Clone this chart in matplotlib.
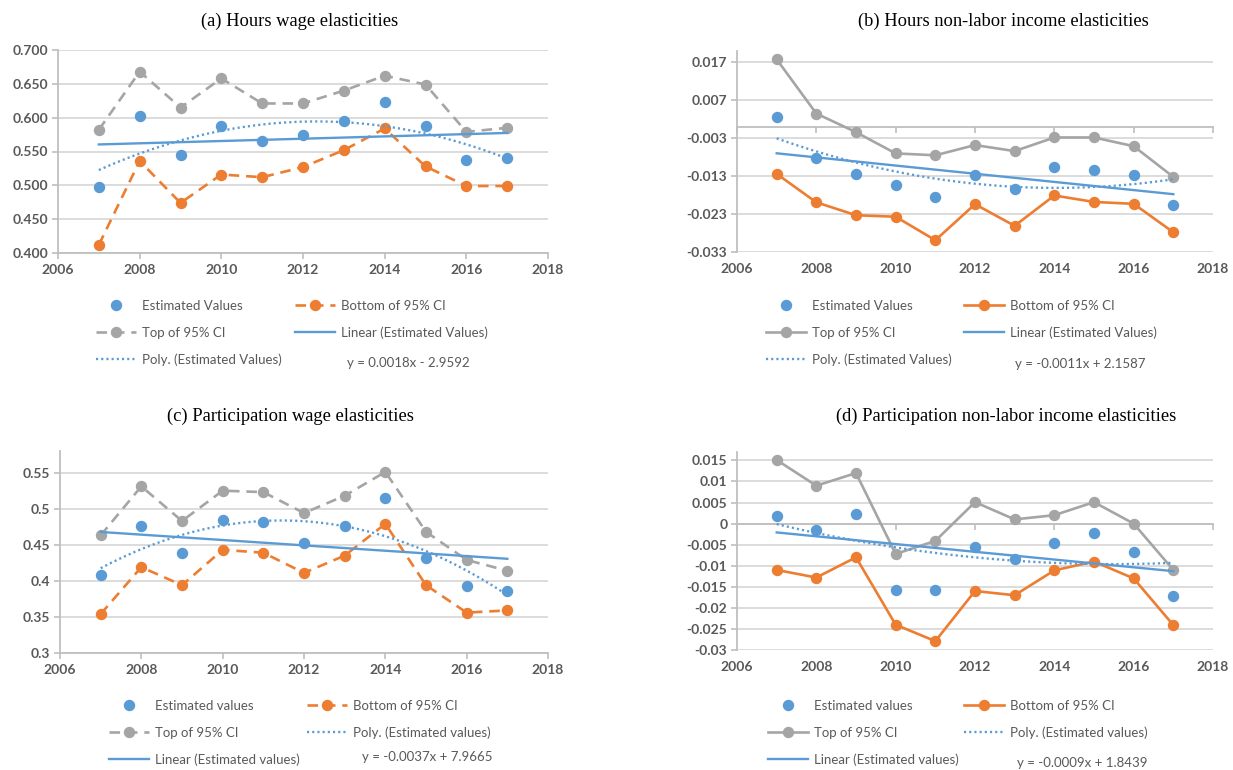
import numpy as np
import matplotlib
matplotlib.use("Agg")
import matplotlib.pyplot as plt
from matplotlib.lines import Line2D

W, H = 1233, 770

years = np.arange(2007, 2018)

# (a) Hours wage elasticities
hw_est = [0.498, 0.602, 0.545, 0.588, 0.566, 0.574, 0.595, 0.623, 0.588, 0.538, 0.541]
hw_top = [0.582, 0.668, 0.615, 0.658, 0.621, 0.621, 0.640, 0.662, 0.649, 0.579, 0.585]
hw_bot = [0.412, 0.536, 0.474, 0.516, 0.512, 0.527, 0.552, 0.584, 0.528, 0.499, 0.499]

# (b) Hours non-labor income elasticities
hn_est = [0.0027, -0.0083, -0.0124, -0.0154, -0.0186, -0.0126, -0.0163, -0.0105, -0.0113, -0.0128, -0.0205]
hn_top = [0.0178, 0.0035, -0.0014, -0.0070, -0.0075, -0.0048, -0.0064, -0.0028, -0.0028, -0.0051, -0.0132]
hn_bot = [-0.0124, -0.0199, -0.0233, -0.0237, -0.0299, -0.0204, -0.0261, -0.0181, -0.0198, -0.0203, -0.0278]

# (c) Participation wage elasticities
pw_est = [0.408, 0.476, 0.439, 0.484, 0.481, 0.452, 0.476, 0.515, 0.431, 0.393, 0.386]
pw_top = [0.463, 0.531, 0.483, 0.525, 0.523, 0.494, 0.518, 0.551, 0.468, 0.429, 0.414]
pw_bot = [0.354, 0.419, 0.394, 0.443, 0.439, 0.411, 0.435, 0.479, 0.394, 0.356, 0.359]

# (d) Participation non-labor income elasticities
pn_est = [0.0019, -0.0015, 0.0023, -0.0157, -0.0158, -0.0056, -0.0083, -0.0045, -0.0023, -0.0068, -0.0173]
pn_top = [0.0151, 0.0090, 0.0120, -0.0072, -0.0041, 0.0051, 0.0010, 0.0020, 0.0051, 0.0000, -0.0110]
pn_bot = [-0.0110, -0.0128, -0.0080, -0.0240, -0.0279, -0.0160, -0.0170, -0.0111, -0.0090, -0.0130, -0.0241]

titles = ["(a) Hours wage elasticities",
          "(b) Hours non-labor income elasticities",
          "(c) Participation wage elasticities",
          "(d) Participation non-labor income elasticities"]
equations = ["y = 0.0018x - 2.9592", "y = -0.0011x + 2.1587",
             "y = -0.0037x + 7.9665", "y = -0.0009x + 1.8439"]
xticks = [2006, 2008, 2010, 2012, 2014, 2016, 2018]

BLUE = "#5B9BD5"
ORANGE = "#ED7D31"
GRAY = "#A5A5A5"
TXT = "#595959"
GRID = "#D9D9D9"
AXIS = "#BFBFBF"

TICKFONT = dict(family="Lato", weight="bold", size=10, color=TXT)
LEGFONT = dict(family="Lato", size=9.5)

fig = plt.figure(figsize=(W / 100, H / 100), dpi=100)
fig.patch.set_facecolor("white")


def px_axes(left, top, right, bottom):
    return fig.add_axes([left / W, 1 - bottom / H, (right - left) / W, (bottom - top) / H])


def fig_xy(x, y):
    return x / W, 1 - y / H


def draw_panel(rect, est, top, bot, ylim, yticks, yfmt, dashed, cross_zero):
    ax = px_axes(*rect)
    ls = (0, (4, 2.6)) if dashed else "-"
    ax.plot(years, bot, color=ORANGE, lw=1.9, ls=ls, marker="o", ms=7.2, zorder=3)
    ax.plot(years, top, color=GRAY, lw=1.9, ls=ls, marker="o", ms=7.2, zorder=3)
    ax.plot(years, est, ls="none", color=BLUE, marker="o", ms=7.2, zorder=4)

    # trendlines fitted to the estimated values
    yc = years - 2012
    lin = np.polyfit(yc, est, 1)
    ax.plot(years, np.polyval(lin, yc), color=BLUE, lw=1.7, zorder=5)
    quad = np.polyfit(yc, est, 2)
    xs = np.linspace(2007, 2017, 200)
    ax.plot(xs, np.polyval(quad, xs - 2012), color=BLUE, lw=1.7,
            ls=(0, (0.9, 1.3)), zorder=5)

    ax.set_xlim(2006, 2018)
    ax.set_ylim(*ylim)
    ax.set_yticks(yticks)
    ax.set_yticklabels([yfmt(v) for v in yticks], **TICKFONT)
    ax.yaxis.grid(True, color=GRID, lw=1.3, zorder=0)
    ax.set_axisbelow(True)
    for s in ("top", "right"):
        ax.spines[s].set_visible(False)
    for s in ("left", "bottom"):
        ax.spines[s].set_color(AXIS)
        ax.spines[s].set_linewidth(1.3)
    ax.tick_params(axis="y", direction="out", length=4, width=1.2, color=AXIS, pad=3)
    ax.tick_params(axis="x", direction="out", length=4, width=1.2, color=AXIS, pad=4)
    ax.set_xticks(xticks)
    if cross_zero:
        ax.spines["bottom"].set_position(("data", 0))
        ax.tick_params(axis="x", labelbottom=False)
        sec = ax.secondary_xaxis("bottom")
        sec.set_xticks(xticks)
        sec.set_xticklabels([str(v) for v in xticks], **TICKFONT)
        sec.tick_params(length=0, pad=8)
        sec.spines["bottom"].set_visible(False)
    else:
        ax.set_xticklabels([str(v) for v in xticks], **TICKFONT)
    return ax


def handle(kind, dashed):
    ls = (0, (4, 2.6)) if dashed else "-"
    if kind == "est":
        return Line2D([], [], ls="none", color=BLUE, marker="o", ms=7.2)
    if kind == "bot":
        return Line2D([], [], color=ORANGE, lw=1.9, ls=ls, marker="o", ms=7.2)
    if kind == "top":
        return Line2D([], [], color=GRAY, lw=1.9, ls=ls, marker="o", ms=7.2)
    if kind == "lin":
        return Line2D([], [], color=BLUE, lw=1.7)
    return Line2D([], [], color=BLUE, lw=1.7, ls=(0, (0.9, 1.3)))


def column_legend(items, x, y_first):
    hs = [h for h, _ in items]
    ls = [l for _, l in items]
    leg = fig.legend(hs, ls, loc="upper left", bbox_to_anchor=fig_xy(x, y_first - 4),
                     frameon=False, prop=LEGFONT, labelcolor=TXT,
                     handlelength=3.0, handletextpad=0.45, labelspacing=1.1,
                     borderpad=0, borderaxespad=0)
    return leg


rects = [(58, 50, 548, 253), (737, 51, 1213, 252),
         (60, 451, 548, 653), (737, 452, 1213, 650)]

fmt3 = lambda v: f"{v:.3f}"
fmtg = lambda v: f"{v:g}"

draw_panel(rects[0], hw_est, hw_top, hw_bot, (0.4, 0.7),
           np.round(np.arange(0.4, 0.7001, 0.05), 3), fmt3, True, False)
draw_panel(rects[1], hn_est, hn_top, hn_bot, (-0.033, 0.020),
           np.round(np.arange(-0.033, 0.0171, 0.01), 3), fmt3, False, True)
draw_panel(rects[2], pw_est, pw_top, pw_bot, (0.3, 0.58),
           np.round(np.arange(0.3, 0.5501, 0.05), 2), fmtg, True, False)
draw_panel(rects[3], pn_est, pn_top, pn_bot, (-0.03, 0.017),
           np.round(np.arange(-0.03, 0.0151, 0.005), 3), fmtg, False, True)

title_pos = [(300, 21), (1003, 21), (290, 416), (1006, 416)]
for (tx, ty), t in zip(title_pos, titles):
    fig.text(*fig_xy(tx, ty), t, ha="center", va="center",
             family="Liberation Serif", size=13.3, color="black")

# legends, two columns per panel
column_legend([(handle("est", True), "Estimated Values"),
               (handle("top", True), "Top of 95% CI"),
               (handle("poly", True), "Poly. (Estimated Values)")], 96, 304)
column_legend([(handle("bot", True), "Bottom of 95% CI"),
               (handle("lin", True), "Linear (Estimated Values)")], 295, 304)

column_legend([(handle("est", False), "Estimated Values"),
               (handle("top", False), "Top of 95% CI"),
               (handle("poly", False), "Poly. (Estimated Values)")], 766, 304)
column_legend([(handle("bot", False), "Bottom of 95% CI"),
               (handle("lin", False), "Linear (Estimated Values)")], 964, 304)

column_legend([(handle("est", True), "Estimated values"),
               (handle("top", True), "Top of 95% CI"),
               (handle("lin", True), "Linear (Estimated values)")], 109, 704)
column_legend([(handle("bot", True), "Bottom of 95% CI"),
               (handle("poly", True), "Poly. (Estimated values)")], 307, 704)

column_legend([(handle("est", False), "Estimated values"),
               (handle("top", False), "Top of 95% CI"),
               (handle("lin", False), "Linear (Estimated values)")], 768, 704)
column_legend([(handle("bot", False), "Bottom of 95% CI"),
               (handle("poly", False), "Poly. (Estimated values)")], 964, 704)

eq_pos = [(347, 363), (1015, 364), (362, 757), (1017, 763)]
for (ex, ey), e in zip(eq_pos, equations):
    fig.text(*fig_xy(ex, ey), e, ha="left", va="center", color=TXT, **LEGFONT)

fig.savefig("out.png", dpi=100, facecolor="white")
